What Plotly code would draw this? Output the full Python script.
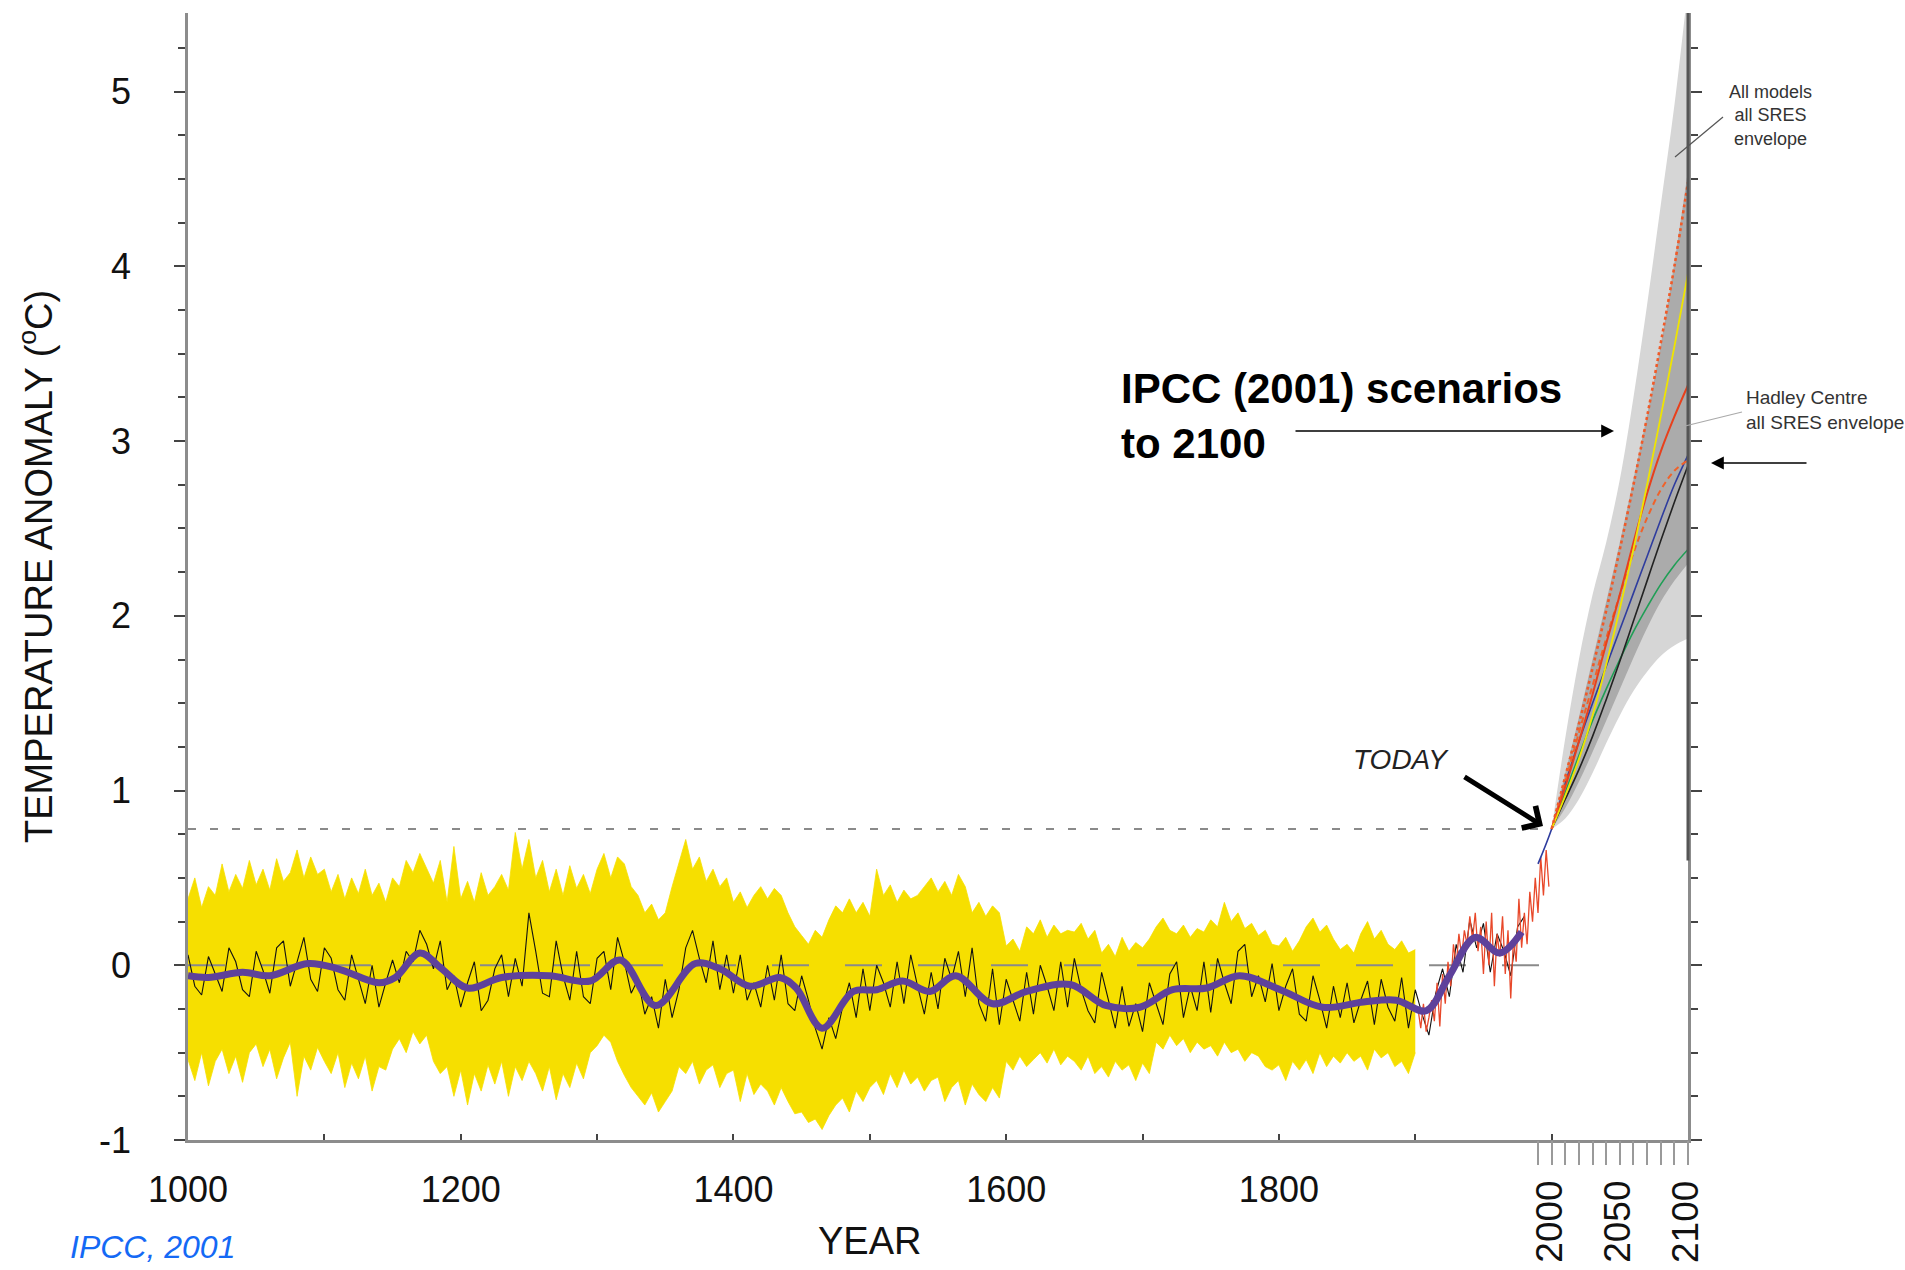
import plotly.graph_objects as go

# ---------------- data ----------------
RECON_YEARS = list(range(1000, 1985, 5))
RECON_BLACK = [
    0.06, -0.12, -0.17, 0.05, -0.05, -0.15, 0.10, 0.02, -0.14, -0.18,
    0.08, -0.03, -0.16, 0.10, 0.14, -0.12, 0.02, 0.16, -0.08, -0.15,
    0.10, 0.04, -0.14, -0.20, 0.06, -0.08, -0.22, 0.00, -0.24, -0.10,
    0.03, -0.10, 0.08, 0.02, 0.20, 0.12, -0.02, 0.14, -0.14, -0.06,
    -0.24, -0.10, 0.02, -0.26, -0.20, -0.02, 0.06, -0.18, 0.04, -0.12,
    0.30, 0.08, -0.16, -0.18, 0.14, -0.06, -0.20, 0.08, -0.18, -0.22,
    0.04, 0.08, -0.14, 0.16, 0.02, -0.16, -0.08, -0.28, -0.18, -0.36,
    -0.08, -0.30, -0.14, 0.10, 0.20, 0.04, -0.10, 0.14, -0.14, 0.06,
    -0.16, 0.06, -0.20, -0.10, -0.24, 0.00, -0.20, 0.06, -0.22, -0.26,
    -0.06, -0.20, -0.36, -0.48, -0.30, -0.42, -0.24, -0.10, -0.30, -0.02,
    -0.26, 0.00, -0.10, -0.24, 0.02, -0.22, 0.06, -0.12, -0.28, -0.04,
    -0.25, 0.04, -0.08, 0.08, -0.18, 0.10, -0.22, -0.32, -0.02, -0.34,
    -0.08, -0.20, -0.32, -0.04, -0.28, 0.00, -0.12, -0.26, 0.02, -0.24,
    0.04, -0.14, -0.26, -0.33, -0.04, -0.20, -0.36, -0.12, -0.35, -0.22,
    -0.38, -0.10, -0.22, -0.34, -0.05, 0.02, -0.30, -0.12, -0.26, 0.02,
    -0.27, 0.04, -0.10, -0.22, 0.08, 0.12, -0.18, -0.06, -0.21, 0.01,
    -0.26, -0.12, -0.02, -0.28, -0.32, -0.06, -0.20, -0.36, -0.12, -0.30,
    -0.10, -0.33, -0.20, -0.09, -0.34, -0.08, -0.24, -0.32, -0.07, -0.36,
    -0.14, -0.28, -0.40, -0.16, -0.02, -0.18, 0.12, -0.04, 0.26, 0.10,
    0.24, -0.04, 0.18, 0.08, -0.06, 0.22, 0.28,
]

BAND_YEARS = list(range(1000, 1905, 5))
BAND_UPPER = [
    0.38, 0.50, 0.33, 0.45, 0.40, 0.58, 0.42, 0.52, 0.44, 0.60,
    0.46, 0.55, 0.43, 0.61, 0.48, 0.53, 0.66, 0.50, 0.62, 0.52,
    0.55, 0.42, 0.52, 0.38, 0.50, 0.41, 0.55, 0.40, 0.47, 0.36,
    0.50, 0.45, 0.60, 0.53, 0.64, 0.55, 0.47, 0.60, 0.36, 0.68,
    0.38, 0.48, 0.36, 0.53, 0.40, 0.45, 0.52, 0.43, 0.76, 0.55,
    0.72, 0.50, 0.60, 0.42, 0.55, 0.40, 0.57, 0.44, 0.52, 0.41,
    0.55, 0.64, 0.50, 0.62, 0.58, 0.45, 0.40, 0.30, 0.35, 0.26,
    0.30, 0.45, 0.58, 0.72, 0.55, 0.62, 0.48, 0.55, 0.45, 0.50,
    0.36, 0.42, 0.33, 0.40, 0.45, 0.38, 0.44, 0.40, 0.30, 0.22,
    0.17, 0.12, 0.20, 0.16, 0.26, 0.34, 0.30, 0.38, 0.30, 0.36,
    0.28, 0.55, 0.40, 0.46, 0.36, 0.43, 0.38, 0.40, 0.45, 0.50,
    0.42, 0.48, 0.40, 0.52, 0.45, 0.30, 0.36, 0.28, 0.34, 0.30,
    0.11, 0.15, 0.08, 0.22, 0.18, 0.26, 0.16, 0.23, 0.18, 0.20,
    0.19, 0.24, 0.15, 0.20, 0.07, 0.12, 0.05, 0.16, 0.08, 0.13,
    0.10, 0.15, 0.22, 0.27, 0.20, 0.18, 0.23, 0.16, 0.21, 0.19,
    0.26, 0.22, 0.36, 0.25, 0.30, 0.21, 0.24, 0.17, 0.20, 0.12,
    0.11, 0.16, 0.08, 0.14, 0.22, 0.27, 0.19, 0.23, 0.15, 0.09,
    0.12, 0.07, 0.18, 0.25, 0.15, 0.20, 0.12, 0.09, 0.14, 0.07,
    0.09,
]
BAND_LOWER = [
    -0.54, -0.66, -0.50, -0.69, -0.55, -0.48, -0.62, -0.52, -0.67, -0.50,
    -0.45, -0.58, -0.48, -0.65, -0.53, -0.44, -0.75, -0.52, -0.60, -0.47,
    -0.55, -0.62, -0.50, -0.70, -0.56, -0.65, -0.52, -0.72, -0.58, -0.60,
    -0.48, -0.42, -0.50, -0.38, -0.45, -0.40, -0.55, -0.62, -0.58, -0.75,
    -0.60, -0.80, -0.62, -0.72, -0.57, -0.68, -0.55, -0.75, -0.58, -0.66,
    -0.55, -0.62, -0.72, -0.58, -0.77, -0.62, -0.70, -0.56, -0.65, -0.50,
    -0.46, -0.40, -0.44, -0.55, -0.63, -0.70, -0.75, -0.80, -0.73, -0.84,
    -0.78, -0.72, -0.58, -0.62, -0.55, -0.68, -0.60, -0.57, -0.70, -0.62,
    -0.60, -0.78, -0.62, -0.74, -0.68, -0.72, -0.80, -0.70, -0.78, -0.85,
    -0.84, -0.90, -0.88, -0.94, -0.86, -0.80, -0.76, -0.84, -0.72, -0.78,
    -0.70, -0.66, -0.74, -0.62, -0.70, -0.60, -0.68, -0.64, -0.72, -0.66,
    -0.64, -0.78, -0.70, -0.66, -0.80, -0.68, -0.74, -0.78, -0.70, -0.76,
    -0.55, -0.60, -0.52, -0.58, -0.54, -0.50, -0.56, -0.48, -0.57, -0.52,
    -0.55, -0.60, -0.52, -0.62, -0.58, -0.64, -0.55, -0.60, -0.57, -0.66,
    -0.56, -0.62, -0.44, -0.48, -0.40, -0.46, -0.42, -0.50, -0.44, -0.48,
    -0.46, -0.52, -0.44, -0.50, -0.48, -0.55, -0.50, -0.52, -0.58, -0.60,
    -0.57, -0.66, -0.55, -0.60, -0.54, -0.62, -0.50, -0.58, -0.52, -0.56,
    -0.50, -0.55, -0.52, -0.60, -0.48, -0.53, -0.50, -0.58, -0.55, -0.62,
    -0.50,
]

INSTR_YEARS = list(range(1902, 2000, 2))
INSTR_VALUES = [
    -0.25, -0.36, -0.22, -0.38, -0.30, -0.20, -0.32, -0.10, -0.35, -0.05,
    -0.22, 0.02, -0.12, 0.12, 0.00, 0.18, 0.05, 0.20, 0.12, 0.28,
    0.15, 0.30, 0.08, 0.22, -0.05, 0.25, 0.00, 0.30, -0.12, 0.18,
    0.05, 0.28, -0.05, 0.20, -0.19, 0.15, 0.02, 0.38, 0.10, 0.30,
    0.12, 0.42, 0.25, 0.50, 0.30, 0.62, 0.40, 0.66, 0.45,
]

SMOOTH_YEARS = [1000, 1015, 1040, 1060, 1088, 1110, 1140, 1152, 1170, 1186,
                1205, 1230, 1265, 1295, 1317, 1343, 1372, 1390, 1412, 1434,
                1446, 1465, 1488, 1505, 1524, 1544, 1563, 1590, 1615, 1647,
                1673, 1698, 1722, 1747, 1771, 1801, 1832, 1862, 1886, 1908,
                1925, 1944, 1962, 1978]
SMOOTH_VALUES = [-0.06, -0.07, -0.04, -0.06, 0.01, -0.02, -0.10, -0.07, 0.07, -0.02,
                 -0.13, -0.07, -0.06, -0.09, 0.03, -0.23, 0.01, -0.02, -0.12, -0.07,
                 -0.13, -0.36, -0.15, -0.14, -0.09, -0.15, -0.06, -0.22, -0.15, -0.11,
                 -0.23, -0.24, -0.14, -0.13, -0.06, -0.14, -0.24, -0.21, -0.20, -0.26,
                 -0.06, 0.16, 0.07, 0.19]

FUT_YEARS = [2000, 2010, 2020, 2030, 2040, 2050, 2060, 2070, 2080, 2090, 2100]
ALL_UPPER = [0.78, 1.30, 1.75, 2.12, 2.42, 2.78, 3.25, 3.78, 4.35, 4.92, 5.60]
ALL_LOWER = [0.78, 0.84, 0.95, 1.10, 1.27, 1.43, 1.57, 1.68, 1.77, 1.83, 1.87]
HAD_UPPER = [0.78, 1.10, 1.42, 1.75, 2.08, 2.42, 2.78, 3.15, 3.55, 4.02, 4.55]
HAD_LOWER = [0.78, 0.90, 1.05, 1.22, 1.40, 1.58, 1.76, 1.93, 2.08, 2.20, 2.30]
SC_RED_DOT = [0.78, 1.08, 1.38, 1.70, 2.03, 2.38, 2.75, 3.14, 3.56, 4.00, 4.48]
SC_YELLOW = [0.78, 0.97, 1.18, 1.43, 1.72, 2.04, 2.38, 2.75, 3.14, 3.54, 3.96]
SC_RED = [0.78, 1.02, 1.28, 1.55, 1.84, 2.12, 2.42, 2.70, 2.94, 3.14, 3.32]
SC_ORANGE_DASH = [0.78, 1.05, 1.33, 1.60, 1.87, 2.12, 2.36, 2.56, 2.72, 2.83, 2.89]
SC_BLACK = [0.78, 0.95, 1.12, 1.31, 1.52, 1.74, 1.97, 2.20, 2.43, 2.65, 2.86]
SC_GREEN = [0.78, 0.99, 1.20, 1.40, 1.58, 1.75, 1.91, 2.05, 2.18, 2.29, 2.38]
BLUE_YEARS = [1990, 2000, 2010, 2020, 2030, 2040, 2050, 2060, 2070, 2080, 2090, 2100]
SC_BLUE = [0.58, 0.78, 1.04, 1.28, 1.50, 1.71, 1.92, 2.13, 2.34, 2.55, 2.75, 2.92]

REF_YEARS = [1000, 1995]
TODAY_LEVEL = 0.78
BASELINE = 0.0

X_RANGE = [1000, 2100]
Y_RANGE = [-1.0, 5.45]
X_TICKS = list(range(1000, 2100, 100))
X_TICK_LABELS = ["1000", "", "1200", "", "1400", "", "1600", "", "1800", "", ""]
FUT_TICKS = list(range(1990, 2110, 10))
FUT_LABEL_YEARS = [2000, 2050, 2100]
FUT_LABELS = ["2000", "2050", "2100"]
Y_TICKS = [-1, 0, 1, 2, 3, 4, 5]
Y_TICK_LABELS = ["-1", "0", "1", "2", "3", "4", "5"]

FONT = "Liberation Sans, Arial, Helvetica, sans-serif"

fig = go.Figure()

fig.add_trace(go.Scatter(x=BAND_YEARS, y=BAND_LOWER, mode="lines",
                         line=dict(color="#F6DF00", width=0.8), hoverinfo="skip"))
fig.add_trace(go.Scatter(x=BAND_YEARS, y=BAND_UPPER, mode="lines", fill="tonexty",
                         fillcolor="#F6DF00", line=dict(color="#F6DF00", width=0.8),
                         hoverinfo="skip"))

fig.add_trace(go.Scatter(x=REF_YEARS, y=[TODAY_LEVEL, TODAY_LEVEL], mode="lines",
                         line=dict(color="#8a8a8a", width=2, dash="8px,14px"),
                         hoverinfo="skip"))
fig.add_trace(go.Scatter(x=REF_YEARS, y=[BASELINE, BASELINE], mode="lines",
                         line=dict(color="#8a8a8a", width=2, dash="37px,36px"),
                         hoverinfo="skip"))

fig.add_trace(go.Scatter(x=RECON_YEARS, y=RECON_BLACK, mode="lines",
                         line=dict(color="#111111", width=1.1)))
fig.add_trace(go.Scatter(x=INSTR_YEARS, y=INSTR_VALUES, mode="lines",
                         line=dict(color="#E8482A", width=1.3)))
fig.add_trace(go.Scatter(x=SMOOTH_YEARS, y=SMOOTH_VALUES, mode="lines",
                         line=dict(color="#5E419B", width=7, shape="spline", smoothing=1.0)))

fig.add_trace(go.Scatter(x=FUT_YEARS, y=ALL_LOWER, mode="lines", xaxis="x2",
                         line=dict(color="#d6d6d6", width=0, shape="spline"), hoverinfo="skip"))
fig.add_trace(go.Scatter(x=FUT_YEARS, y=ALL_UPPER, mode="lines", xaxis="x2", fill="tonexty",
                         fillcolor="#d6d6d6", line=dict(color="#d6d6d6", width=0, shape="spline"),
                         hoverinfo="skip"))
fig.add_trace(go.Scatter(x=FUT_YEARS, y=HAD_LOWER, mode="lines", xaxis="x2",
                         line=dict(color="#ababab", width=0, shape="spline"), hoverinfo="skip"))
fig.add_trace(go.Scatter(x=FUT_YEARS, y=HAD_UPPER, mode="lines", xaxis="x2", fill="tonexty",
                         fillcolor="#ababab", line=dict(color="#ababab", width=0, shape="spline"),
                         hoverinfo="skip"))

scen = [
    (FUT_YEARS, SC_GREEN, "#1F9E55", 1.6, "solid"),
    (FUT_YEARS, SC_BLACK, "#222222", 1.6, "solid"),
    (BLUE_YEARS, SC_BLUE, "#2E3C9E", 1.6, "solid"),
    (FUT_YEARS, SC_ORANGE_DASH, "#F0622A", 2.0, "6px,4px"),
    (FUT_YEARS, SC_RED, "#E8401C", 2.0, "solid"),
    (FUT_YEARS, SC_YELLOW, "#EFE400", 1.8, "solid"),
    (FUT_YEARS, SC_RED_DOT, "#F05A28", 2.6, "dot"),
]
for xs, ys, c, w, d in scen:
    fig.add_trace(go.Scatter(x=xs, y=ys, mode="lines", xaxis="x2",
                             line=dict(color=c, width=w, dash=d, shape="spline")))

# ---------------- layout ----------------
L, R, T, B = 188, 217, 13, 130
W, H = 1905, 1270
PW, PH = W - L - R, H - T - B


def px_x(p):
    return (p - L) / PW


def px_y(p):
    return (H - B - p) / PH


fig.update_layout(
    width=W, height=H, autosize=False,
    margin=dict(l=L, r=R, t=T, b=B, pad=0, autoexpand=False),
    paper_bgcolor="white", plot_bgcolor="white",
    showlegend=False,
    font=dict(family=FONT, color="#111111"),
    xaxis=dict(range=X_RANGE, showgrid=False, zeroline=False, automargin=False,
               showline=True, linecolor="#8c8c8c", linewidth=2.5,
               ticks="inside", ticklen=6, tickwidth=1.5, tickcolor="#444444",
               tickvals=X_TICKS, ticktext=X_TICK_LABELS,
               tickfont=dict(size=36, family=FONT, color="#111111"),
               ticklabelstandoff=16),
    xaxis2=dict(range=X_RANGE, overlaying="x", anchor="y", side="bottom",
                showgrid=False, zeroline=False, showline=False, automargin=False,
                ticks="outside", ticklen=24, tickwidth=2, tickcolor="#9a9a9a",
                tickvals=FUT_TICKS, showticklabels=False),
    yaxis=dict(range=Y_RANGE, showgrid=False, zeroline=False, automargin=False,
               showline=True, linecolor="#8c8c8c", linewidth=2.5, mirror="ticks",
               ticks="outside", ticklen=11, tickwidth=1.5, tickcolor="#444444",
               tickvals=Y_TICKS, ticktext=Y_TICK_LABELS,
               tickfont=dict(size=36, family=FONT, color="#111111"),
               ticklabelstandoff=36,
               minor=dict(dtick=0.25, tick0=0, ticks="outside", ticklen=7,
                          tickwidth=1.5, tickcolor="#444444")),
)

shapes = [
    dict(type="line", xref="paper", yref="y", x0=1.0, x1=1.0, y0=0.6, y1=Y_RANGE[1],
         line=dict(color="#555555", width=3)),
    dict(type="line", xref="paper", yref="paper", x0=px_x(1723), y0=px_y(117),
         x1=px_x(1675), y1=px_y(157), line=dict(color="#555555", width=1.2)),
    dict(type="line", xref="paper", yref="paper", x0=px_x(1742), y0=px_y(412),
         x1=px_x(1677), y1=px_y(428), line=dict(color="#aaaaaa", width=1.2)),
]
fig.update_layout(shapes=shapes)

ann = [
    dict(text="TEMPERATURE ANOMALY (<sup>o</sup>C)", xref="paper", yref="paper",
         x=px_x(36), y=px_y(567), textangle=-90, showarrow=False,
         xanchor="center", yanchor="middle", font=dict(size=38, family=FONT, color="#111111")),
    dict(text="YEAR", xref="x", yref="paper", x=1500, y=px_y(1241), showarrow=False,
         xanchor="center", yanchor="middle", font=dict(size=38, family=FONT, color="#111111")),
    dict(text="<i>IPCC, 2001</i>", xref="paper", yref="paper", x=px_x(68), y=px_y(1247),
         showarrow=False, xanchor="left", yanchor="middle",
         font=dict(size=32, family=FONT, color="#1469F5")),
    dict(text="<b>IPCC (2001) scenarios<br>to 2100</b>", xref="paper", yref="paper",
         x=px_x(1119), y=px_y(416), showarrow=False, xanchor="left", yanchor="middle",
         align="left", font=dict(size=42, family=FONT, color="#000000")),
    dict(text="<i>TODAY</i>", xref="paper", yref="paper", x=px_x(1401), y=px_y(760),
         showarrow=False, xanchor="center", yanchor="middle",
         font=dict(size=28, family=FONT, color="#222222")),
    dict(text="All models<br>all SRES<br>envelope", xref="paper", yref="paper",
         x=px_x(1770), y=px_y(115), showarrow=False, xanchor="center", yanchor="middle",
         align="center", font=dict(size=18, family=FONT, color="#333333")),
    dict(text="Hadley Centre<br>all SRES envelope", xref="paper", yref="paper",
         x=px_x(1744), y=px_y(410), showarrow=False, xanchor="left", yanchor="middle",
         align="left", font=dict(size=19, family=FONT, color="#333333")),
    dict(text="", xref="paper", yref="paper", x=px_x(1614), y=px_y(431),
         ax=-320, ay=0, showarrow=True,
         arrowhead=2, arrowsize=1.6, arrowwidth=1.6, arrowcolor="#000000"),
    dict(text="", xref="paper", yref="paper", x=px_x(1711), y=px_y(463),
         ax=97, ay=0, showarrow=True,
         arrowhead=2, arrowsize=1.6, arrowwidth=1.6, arrowcolor="#000000"),
    dict(text="", xref="paper", yref="paper", x=px_x(1543), y=px_y(826),
         ax=-80, ay=-50, showarrow=True,
         arrowhead=4, arrowsize=1.0, arrowwidth=5, arrowcolor="#000000"),
]
for yr, lab in zip(FUT_LABEL_YEARS, FUT_LABELS):
    ann.append(dict(text=lab, xref="x", yref="paper", x=yr, xshift=-3, y=px_y(1222),
                    textangle=-90, showarrow=False, xanchor="center", yanchor="middle",
                    font=dict(size=37, family=FONT, color="#111111")))
fig.update_layout(annotations=ann)

fig.write_html("out.html")
